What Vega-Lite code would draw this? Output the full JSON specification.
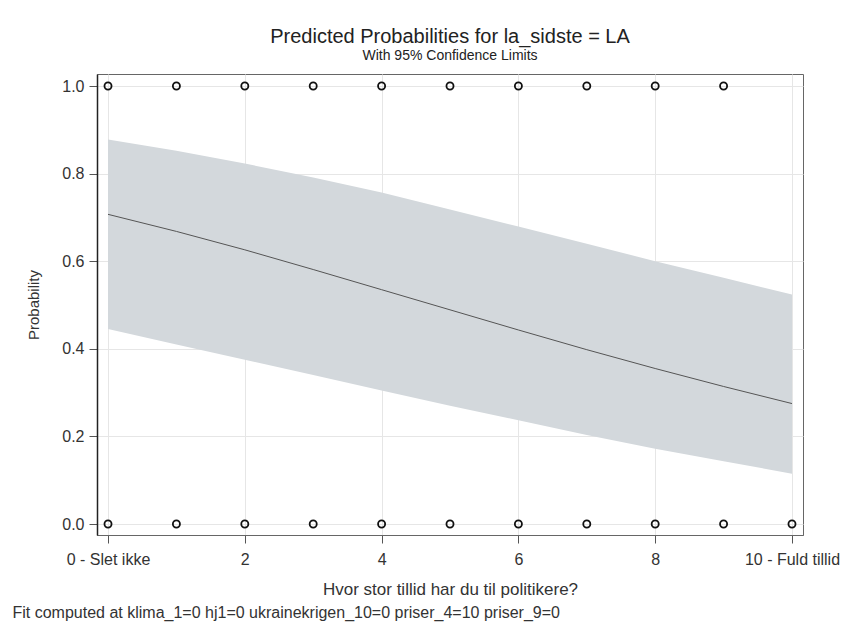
{
  "$schema": "https://vega.github.io/schema/vega-lite/v6.json",
  "width": 706,
  "height": 461,
  "autosize": "none",
  "padding": {"left": 97, "top": 74, "right": 45, "bottom": 102},
  "background": "white",
  "config": {
    "font": "Liberation Sans",
    "view": {"stroke": "#666", "strokeWidth": 1},
    "axis": {"gridColor": "#e6e6e6", "labelColor": "#333", "titleColor": "#333", "titleFontWeight": "normal", "labelFontSize": 16, "titleFontSize": 15}
  },
  "title": {
    "text": "Predicted Probabilities for la_sidste = LA",
    "subtitle": "With 95% Confidence Limits",
    "anchor": "middle",
    "fontSize": 20,
    "fontWeight": "normal",
    "color": "#222",
    "subtitleFontSize": 14,
    "subtitleColor": "#222",
    "subtitlePadding": 2,
    "offset": 11
  },
  "datasets": {
    "fit": [
      {"x": 0, "pred": 0.707, "lower": 0.445, "upper": 0.878},
      {"x": 1, "pred": 0.668, "lower": 0.41, "upper": 0.852},
      {"x": 2, "pred": 0.626, "lower": 0.375, "upper": 0.823},
      {"x": 3, "pred": 0.581, "lower": 0.34, "upper": 0.791},
      {"x": 4, "pred": 0.535, "lower": 0.305, "upper": 0.757},
      {"x": 5, "pred": 0.489, "lower": 0.27, "upper": 0.718},
      {"x": 6, "pred": 0.443, "lower": 0.237, "upper": 0.679},
      {"x": 7, "pred": 0.398, "lower": 0.203, "upper": 0.64},
      {"x": 8, "pred": 0.355, "lower": 0.172, "upper": 0.6},
      {"x": 9, "pred": 0.314, "lower": 0.143, "upper": 0.562},
      {"x": 10, "pred": 0.275, "lower": 0.115, "upper": 0.524}
    ],
    "obs": [
      {"x": 0, "y": 1}, {"x": 1, "y": 1}, {"x": 2, "y": 1}, {"x": 3, "y": 1}, {"x": 4, "y": 1},
      {"x": 5, "y": 1}, {"x": 6, "y": 1}, {"x": 7, "y": 1}, {"x": 8, "y": 1}, {"x": 9, "y": 1},
      {"x": 0, "y": 0}, {"x": 1, "y": 0}, {"x": 2, "y": 0}, {"x": 3, "y": 0}, {"x": 4, "y": 0},
      {"x": 5, "y": 0}, {"x": 6, "y": 0}, {"x": 7, "y": 0}, {"x": 8, "y": 0}, {"x": 9, "y": 0},
      {"x": 10, "y": 0}
    ]
  },
  "layer": [
    {
      "data": {"name": "fit"},
      "mark": {"type": "area", "color": "#d3d8dc", "opacity": 1},
      "encoding": {
        "x": {
          "field": "x", "type": "quantitative",
          "scale": {"domain": [-0.161, 10.161], "nice": false, "zero": false},
          "axis": {
            "title": "Hvor stor tillid har du til politikere?",
            "titleFontSize": 17,
            "values": [0, 2, 4, 6, 8, 10],
            "labelExpr": "datum.value == 0 ? '0 - Slet ikke' : datum.value == 10 ? '10 - Fuld tillid' : datum.label",
            "labelFlush": false,
            "tickSize": 8,
            "tickColor": "#555",
            "domainColor": "#666",
            "labelPadding": 8,
            "titlePadding": 14
          }
        },
        "y": {
          "field": "upper", "type": "quantitative",
          "scale": {"domain": [-0.0251, 1.0274], "nice": false, "zero": false},
          "axis": {
            "title": "Probability",
            "values": [0, 0.2, 0.4, 0.6, 0.8, 1.0],
            "format": ".1f",
            "tickSize": 8,
            "tickColor": "#555",
            "domainColor": "#222",
            "domainWidth": 1.5,
            "labelPadding": 5,
            "titlePadding": 20
          }
        },
        "y2": {"field": "lower"}
      }
    },
    {
      "data": {"name": "fit"},
      "mark": {"type": "line", "color": "#555", "strokeWidth": 1},
      "encoding": {
        "x": {"field": "x", "type": "quantitative", "scale": {"domain": [-0.161, 10.161], "nice": false, "zero": false}, "axis": null},
        "y": {"field": "pred", "type": "quantitative"}
      }
    },
    {
      "data": {"name": "obs"},
      "mark": {"type": "point", "shape": "circle", "filled": false, "color": "#111", "strokeWidth": 1.8, "size": 50, "opacity": 1},
      "encoding": {
        "x": {
          "field": "x", "type": "quantitative",
          "scale": {"domain": [-0.161, 10.161], "nice": false, "zero": false},
          "axis": {
            "orient": "bottom",
            "title": "Fit computed at klima_1=0 hj1=0 ukrainekrigen_10=0 priser_4=10 priser_9=0",
            "labels": false, "ticks": false, "domain": false, "grid": false,
            "titleAnchor": "start", "titleAlign": "left", "titleBaseline": "middle",
            "titleX": -85, "titleY": 77, "titleFontSize": 16
          }
        },
        "y": {"field": "y", "type": "quantitative"}
      }
    }
  ],
  "resolve": {"scale": {"x": "independent"}}
}
